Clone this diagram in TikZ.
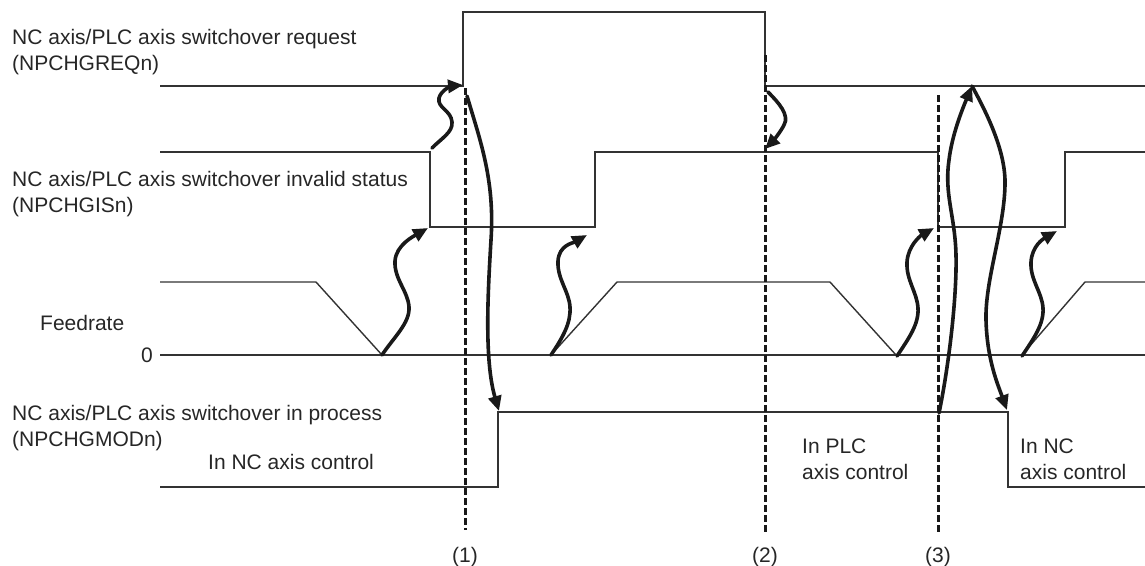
\documentclass[tikz,border=0pt]{standalone}
\usepackage{fontspec}
\setmainfont{Liberation Sans}
\usetikzlibrary{arrows.meta}
\begin{document}
\begin{tikzpicture}[x=1pt, y=-1pt,
        signal/.style={line width=1.4pt, draw=black!80, line join=miter},
        marker/.style={line width=3pt, draw=black!90, dash pattern=on 6.5pt off 3.5pt},
        cause/.style={-{Triangle[length=15pt,width=13pt]}, line width=3.6pt,
          draw=black!90, line cap=round},
        lab/.style={font=\fontsize{21}{25.5}\selectfont, text=black!85,
          inner sep=0pt, align=left, anchor=base west}
      ]
      \useasboundingbox (0,0) rectangle (1145,565);
      % signal lines
      \draw[signal] (160,86) -- (463,86) -- (463,12) -- (765,12)
        -- (765,86) -- (1145,86);
      \draw[signal] (160,152) -- (430,152) -- (430,227) -- (595,227)
        -- (595,152) -- (938,152) -- (938,227) -- (1065,227)
        -- (1065,152) -- (1145,152);
      \draw[signal] (160,355) -- (1145,355);
      \draw[signal] (160,282) -- (316,282) -- (382,355) -- (551,355)
        -- (617,282) -- (830,282) -- (896,355) -- (1022,355)
        -- (1085,282) -- (1145,282);
      \draw[signal] (160,487) -- (498,487) -- (498,412) -- (1008,412)
        -- (1008,487) -- (1145,487);
      % timing markers
      \draw[marker] (465,88) -- (465,530);
      \draw[marker] (765,55) -- (765,532);
      \draw[marker] (938,95) -- (938,532);
      \node[lab, anchor=base] (m1) at (465,562) {(1)};
      \node[lab, anchor=base] (m2) at (765,562) {(2)};
      \node[lab, anchor=base] (m3) at (938,562) {(3)};
      % signal names (base = last line)
      \node[lab] (req) at (12,70)
      {NC axis/PLC axis switchover request\\(NPCHGREQn)};
      \node[lab] (gis) at (12,212)
      {NC axis/PLC axis switchover invalid status\\(NPCHGISn)};
      \node[lab] (feed) at (40,330) {Feedrate};
      \node[lab, anchor=base east] (zero) at (153,362) {0};
      \node[lab] (mod) at (12,446)
      {NC axis/PLC axis switchover in process\\(NPCHGMODn)};
      \node[lab] (ncctl) at (208,469) {In NC axis control};
      \node[lab] (plcctl) at (802,479) {In PLC\\axis control};
      \node[lab] (ncback) at (1020,479) {In NC\\axis control};
      % points of the edges
      \coordinate (gisfall) at (432,148);
      \coordinate (reqrise) at (463,85);
      \coordinate (reqlow) at (467,96);
      \coordinate (modrise) at (499,411);
      \coordinate (reqfall) at (768,92);
      \coordinate (gisrise) at (765,149);
      \coordinate (modhigh) at (939,413);
      \coordinate (reqtop) at (972,86);
      \coordinate (modfall) at (1007,410);
      \coordinate (f1) at (382,355);  \coordinate (g1) at (428,228);
      \coordinate (f2) at (551,355);  \coordinate (g2) at (587,235);
      \coordinate (f3) at (897,356);  \coordinate (g3) at (934,228);
      \coordinate (f4) at (1022,356); \coordinate (g4) at (1057,231);
      % causes
      \draw[cause] (gisfall) .. controls (442,138) and (453,132) .. (452,122)
        .. controls (451,110) and (437,108) .. (439,98)
        .. controls (441,90) and (452,86) .. (reqrise);
      \draw[cause] (reqlow) .. controls (480,140) and (495,180) .. (491,240)
        .. controls (488,290) and (484,360) .. (modrise);
      \draw[cause] (reqfall) .. controls (778,102) and (790,115) .. (784,125)
        .. controls (780,133) and (772,142) .. (gisrise);
      \draw[cause] (modhigh) .. controls (948,370) and (957,300) .. (956,255)
        .. controls (955,215) and (944,195) .. (949,160)
        .. controls (952,135) and (962,110) .. (reqtop);
      \draw[cause] (reqtop) .. controls (985,110) and (1006,150) .. (1005,185)
        .. controls (1004,230) and (985,280) .. (986,320)
        .. controls (987,360) and (998,385) .. (modfall);
      \foreach \s/\t/\r/\l in {f1/g1/27/-14,f2/g2/19/-12,f3/g3/21/-11,f4/g4/21/-12}
      {\draw[cause] (\s) .. controls +(12,-18) and +(1,16) .. ++(\r,-48)
        .. controls +(-1,-16) and +(-1,18) .. ++(\l,-46)
        .. controls +(1,-16) and +(-14,8) .. (\t);}
    \end{tikzpicture}
\end{document}
